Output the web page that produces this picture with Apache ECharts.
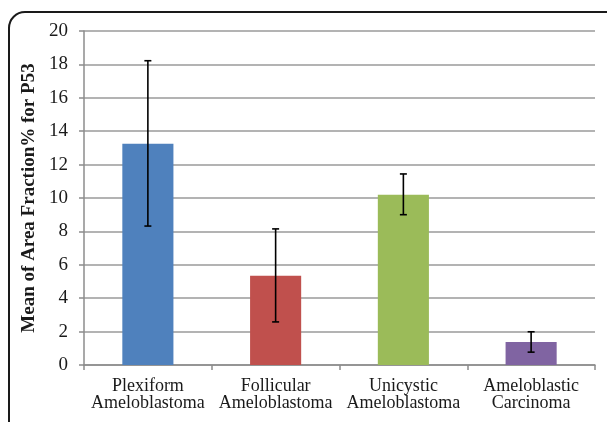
<!DOCTYPE html>
<html>
<head>
<meta charset="utf-8">
<script src="https://cdn.jsdelivr.net/npm/echarts@6/dist/echarts.min.js"></script>
<style>
html,body{margin:0;padding:0;background:#fff;}
#chart{width:607px;height:422px;}
</style>
</head>
<body>
<div id="chart"></div>
<script>
const categories = ['Plexiform\nAmeloblastoma', 'Follicular\nAmeloblastoma', 'Unicystic\nAmeloblastoma', 'Ameloblastic\nCarcinoma'];
const means = [13.25, 5.35, 10.2, 1.37];
const errLow = [8.32, 2.58, 9.0, 0.77];
const errHigh = [18.22, 8.15, 11.44, 1.99];
const barColors = ['#4f81bd', '#c0504d', '#9bbb59', '#8064a2'];
const yTicks = { min: 0, max: 20, interval: 2 };
const yTitle = 'Mean of Area Fraction% for P53';

const chart = echarts.init(document.getElementById('chart'));
const serif = '"Liberation Serif","Times New Roman",serif';
chart.setOption({
  animation: false,
  graphic: [{
    type: 'rect',
    shape: { x: 9, y: 12, width: 620, height: 430, r: 16 },
    style: { fill: 'none', stroke: '#1a1a1a', lineWidth: 2 },
    silent: true
  }],
  grid: { left: 84, right: 12, top: 31, bottom: 57 },
  xAxis: {
    type: 'category',
    data: categories,
    axisLine: { lineStyle: { color: '#8c8c8c', width: 1.5 } },
    axisTick: { show: true, length: 5, lineStyle: { color: '#8c8c8c', width: 1.5 } },
    axisLabel: { fontFamily: serif, fontSize: 18, color: '#1a1a1a', lineHeight: 17, margin: 13, interval: 0 }
  },
  yAxis: {
    type: 'value',
    min: yTicks.min, max: yTicks.max, interval: yTicks.interval,
    name: yTitle,
    nameLocation: 'middle',
    nameGap: 42,
    nameTextStyle: { fontFamily: serif, fontSize: 19, fontWeight: 'bold', color: '#1a1a1a' },
    axisLine: { show: true, lineStyle: { color: '#8c8c8c', width: 1.5 } },
    axisTick: { show: true, length: 5, lineStyle: { color: '#8c8c8c', width: 1.5 } },
    axisLabel: { fontFamily: serif, fontSize: 19, color: '#1a1a1a', margin: 16 },
    splitLine: { lineStyle: { color: '#9a9a9a', width: 1.5 } }
  },
  series: [{
    type: 'bar',
    barWidth: '40%',
    data: means.map((v, i) => ({ value: v, itemStyle: { color: barColors[i] } })),
    z: 2
  }, {
    type: 'custom',
    z: 3,
    data: means.map((v, i) => [i, errLow[i], errHigh[i]]),
    renderItem: function (params, api) {
      const x = api.value(0);
      const lo = api.coord([x, api.value(1)]);
      const hi = api.coord([x, api.value(2)]);
      const hw = 3.5;
      const st = { stroke: '#000', lineWidth: 1.6 };
      return {
        type: 'group',
        children: [
          { type: 'line', shape: { x1: lo[0], y1: lo[1], x2: hi[0], y2: hi[1] }, style: st },
          { type: 'line', shape: { x1: lo[0] - hw, y1: lo[1], x2: lo[0] + hw, y2: lo[1] }, style: st },
          { type: 'line', shape: { x1: hi[0] - hw, y1: hi[1], x2: hi[0] + hw, y2: hi[1] }, style: st }
        ]
      };
    }
  }]
});
</script>
</body>
</html>
